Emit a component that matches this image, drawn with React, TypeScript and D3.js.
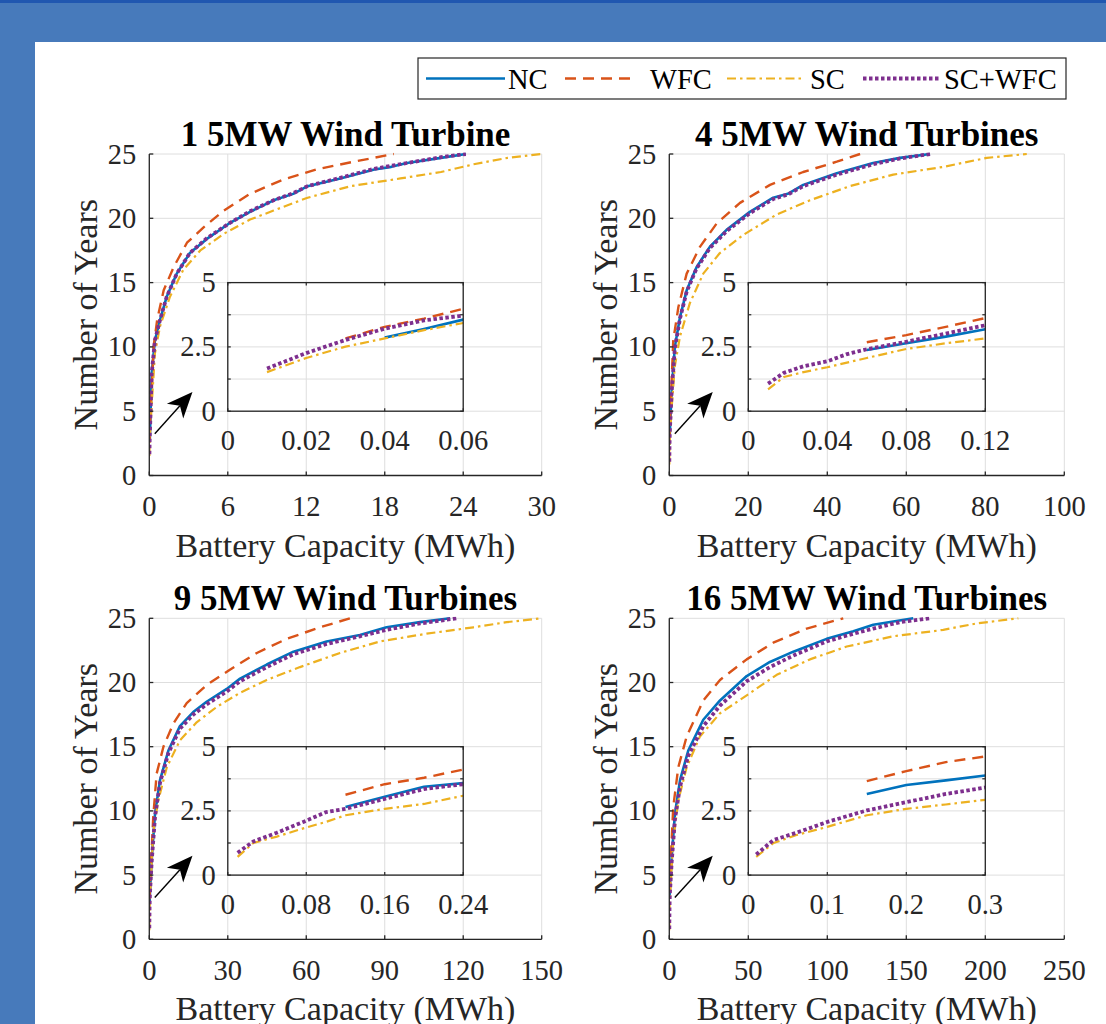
import React from "react";
import * as d3 from "d3";

// ---------- data ----------
const SERIES_NAMES = ["NC", "WFC", "SC", "SC+WFC"];
const COLORS = ["#0072BD", "#D95319", "#EDB120", "#7E2F8E"];

const TITLES = ["1 5MW Wind Turbine", "4 5MW Wind Turbines", "9 5MW Wind Turbines", "16 5MW Wind Turbines"];
const X_MAX = [30, 100, 150, 250];
const X_TICKS = [
  [0, 6, 12, 18, 24, 30],
  [0, 20, 40, 60, 80, 100],
  [0, 30, 60, 90, 120, 150],
  [0, 50, 100, 150, 200, 250],
];
const Y_TICKS = [0, 5, 10, 15, 20, 25];
const INSET_X_MAX = [0.06, 0.12, 0.24, 0.3];
const INSET_X_TICKS = [
  [0, 0.02, 0.04, 0.06],
  [0, 0.04, 0.08, 0.12],
  [0, 0.08, 0.16, 0.24],
  [0, 0.1, 0.2, 0.3],
];
const INSET_Y_TICKS = [0, 1.25, 2.5, 3.75, 5];
const INSET_Y_LABELS = [0, 2.5, 5];
const INSET_SPAN_X = [[6, 24], [20, 80], [30, 120], [50, 200]];
const INSET_SPAN_Y = [5, 15];

// panel 1: 1 turbine
const NC_1 = [[0.04,2.86],[0.05,3.2],[0.06,3.56],[0.18,7.9],[0.43,10.5],[0.82,12.1],[1.33,13.9],[2.1,15.7],[3.1,17.3],[4.4,18.4],[6.1,19.6],[7.7,20.5],[9.5,21.4],[11,21.9],[12.1,22.5],[14.6,23.1],[17.2,23.8],[18.5,24.0],[19.7,24.3],[22.3,24.7],[24.2,25]];
const WFC_1 = [[0.03,2.83],[0.04,3.28],[0.05,3.6],[0.06,3.98],[0.33,10],[0.6,12.1],[1.1,14.4],[1.86,16.2],[2.88,18.1],[4.15,19.3],[5.7,20.6],[7.7,21.9],[10.2,23],[12.8,23.8],[15.6,24.4],[18.7,25]];
const SC_1 = [[0.01,1.52],[0.02,2.07],[0.03,2.51],[0.04,2.83],[0.05,3.15],[0.06,3.43],[0.43,9.5],[0.82,11.6],[1.58,13.9],[2.6,16],[3.9,17.5],[5.7,18.8],[7.7,19.9],[9.5,20.6],[12.1,21.6],[15.4,22.5],[19.2,23.1],[22.3,23.6],[24.8,24.2],[27.4,24.7],[30,25]];
const SCW_1 = [[0.01,1.66],[0.02,2.26],[0.03,2.77],[0.04,3.21],[0.05,3.53],[0.06,3.72],[0.18,7.9],[0.43,10.5],[0.82,12.1],[1.33,13.9],[2.1,15.7],[3.1,17.3],[4.4,18.45],[6.1,19.6],[7.7,20.55],[9.5,21.4],[11,21.95],[12.1,22.5],[14.6,23.15],[17.2,23.85],[19.7,24.3],[22.3,24.75],[24.2,25]];

// panel 2: 4 turbines
const NC_2 = [[0.06,2.38],[0.08,2.64],[0.1,2.9],[0.12,3.19],[0.6,6.6],[1.4,10],[2.7,12.3],[4.4,14.4],[6.9,16.2],[10.3,17.8],[14.5,19.1],[20.4,20.5],[26.3,21.6],[30,21.9],[33.9,22.6],[42.4,23.5],[51.6,24.3],[58.4,24.7],[66,25]];
const WFC_2 = [[0.06,2.68],[0.08,2.96],[0.1,3.28],[0.12,3.62],[1.0,10.5],[2.3,13.1],[4.4,15.7],[7.8,17.8],[12,19.6],[17.9,21.2],[25.5,22.6],[33.9,23.6],[42.4,24.4],[48.3,25]];
const SC_2 = [[0.01,0.85],[0.018,1.33],[0.028,1.52],[0.04,1.71],[0.06,2.07],[0.08,2.42],[0.1,2.64],[0.12,2.83],[0.6,5.3],[1.4,8.5],[2.7,10.8],[5.2,13.4],[8.6,15.7],[12.8,17.3],[18.7,18.7],[27.2,20.3],[35.6,21.4],[45.7,22.5],[56.7,23.4],[69.4,24],[80.4,24.7],[90.5,25]];
const SCW_2 = [[0.01,1.07],[0.018,1.49],[0.028,1.75],[0.04,1.94],[0.05,2.22],[0.06,2.41],[0.08,2.7],[0.1,3.02],[0.12,3.34],[0.6,6.5],[1.4,9.9],[2.7,12.2],[4.4,14.3],[6.9,16.1],[10.3,17.7],[14.5,19.0],[20.4,20.4],[26.3,21.5],[30,21.85],[33.9,22.5],[42.4,23.4],[51.6,24.2],[58.4,24.65],[66,25]];

// panel 3: 9 turbines
const NC_3 = [[0.12,2.65],[0.16,3.05],[0.2,3.44],[0.24,3.58],[0.9,6.2],[2.2,9.8],[4.1,12.4],[7.3,14.7],[11.7,16.6],[16.8,17.7],[21.9,18.5],[29.6,19.5],[34.7,20.3],[44.9,21.4],[55.1,22.4],[67.8,23.2],[80.5,23.7],[90.7,24.3],[103.5,24.7],[115,25]];
const WFC_3 = [[0.12,3.13],[0.16,3.54],[0.2,3.79],[0.24,4.11],[1.5,9.5],[2.8,12.9],[5.4,15],[9.2,16.8],[14.3,18.4],[21.9,19.8],[30.8,21],[41.1,22.3],[52.5,23.4],[65.3,24.3],[76.7,25]];
const SC_3 = [[0.01,0.71],[0.026,1.25],[0.05,1.5],[0.077,1.82],[0.1,2.07],[0.12,2.33],[0.16,2.58],[0.2,2.77],[0.24,3.09],[1.5,8.3],[3.4,10.8],[6.7,13.4],[11.7,15.5],[18.1,16.9],[25.8,18.1],[34.7,19.2],[44.9,20.2],[57.6,21.2],[72.9,22.3],[88.2,23.2],[106,23.8],[123.9,24.3],[136.6,24.7],[150,25]];
const SCW_3 = [[0.01,0.87],[0.026,1.31],[0.05,1.65],[0.077,2.07],[0.1,2.45],[0.12,2.58],[0.16,2.97],[0.2,3.35],[0.24,3.54],[0.9,6.0],[2.2,9.6],[4.1,12.2],[7.3,14.5],[11.7,16.4],[16.8,17.5],[21.9,18.3],[29.6,19.3],[34.7,20.1],[44.9,21.2],[55.1,22.2],[67.8,23.0],[80.5,23.6],[90.7,24.1],[103.5,24.6],[117.5,25]];

// panel 4: 16 turbines
const NC_4 = [[0.15,3.16],[0.2,3.51],[0.25,3.69],[0.3,3.88],[1.5,6.4],[3.6,9.8],[6.8,12.4],[12,14.7],[21.5,17.1],[32.1,18.6],[49,20.5],[63.7,21.6],[78.5,22.4],[99.6,23.4],[116.5,24],[129.1,24.5],[154.4,25]];
const WFC_4 = [[0.15,3.66],[0.2,4.05],[0.25,4.4],[0.3,4.62],[2.5,10.3],[5.7,13.4],[11,15.8],[21.5,18.6],[32.1,20.2],[49,21.8],[65.8,23.1],[87,24.2],[110.1,25]];
const SC_4 = [[0.01,0.71],[0.032,1.25],[0.061,1.56],[0.1,1.88],[0.15,2.33],[0.2,2.58],[0.25,2.75],[0.3,2.93],[2.5,7.7],[5.7,10.8],[11,13.4],[19.4,15.8],[32.1,17.6],[49,19],[68,20.6],[89,21.8],[112.3,22.8],[141.8,23.6],[173.4,24.1],[194.5,24.6],[220.9,25]];
const SCW_4 = [[0.01,0.8],[0.032,1.37],[0.061,1.65],[0.1,2.07],[0.15,2.52],[0.2,2.84],[0.25,3.16],[0.3,3.41],[1.5,6.0],[3.6,9.4],[6.8,11.9],[12,14.3],[21.5,16.6],[32.1,18.2],[49,20.1],[63.7,21.2],[78.5,22.1],[99.6,23.2],[116.5,23.8],[129.1,24.2],[146,24.7],[165,25]];

const PANEL_SERIES = [
  [NC_1, WFC_1, SC_1, SCW_1],
  [NC_2, WFC_2, SC_2, SCW_2],
  [NC_3, WFC_3, SC_3, SCW_3],
  [NC_4, WFC_4, SC_4, SCW_4],
];

// ---------- layout / style ----------
const W = 1106, H = 1024;
const BOXES = [
  { l: 149.3, t: 154, r: 541.7, b: 475.5 },
  { l: 669.3, t: 154, r: 1064.3, b: 475.5 },
  { l: 149.3, t: 618.3, r: 541.7, b: 939.3 },
  { l: 669.3, t: 618.3, r: 1064.3, b: 939.3 },
];
const FONT = "Liberation Serif, Times New Roman, Times, serif";
const AX = "#262626";
const GRID = "#dedede";
const STYLES = [
  { w: 2.6, dash: undefined },
  { w: 2.4, dash: "11 7" },
  { w: 2.2, dash: "9 4 2.5 4" },
  { w: 3.8, dash: "3.5 2.5" },
];
const ARROW_FRAC = { tail: [0.014, 0.13], tip: [0.11, 0.26] };

function fmt(v: number) {
  return String(+v.toFixed(4));
}

function Arrow({ x1, y1, x2, y2 }) {
  const dx = x2 - x1, dy = y2 - y1;
  const len = Math.hypot(dx, dy);
  const ux = dx / len, uy = dy / len;
  const nx = -uy, ny = ux;
  const L = 26, Wd = 11;
  const bx = x2 - L * ux, by = y2 - L * uy;
  const ix = x2 - 0.72 * L * ux, iy = y2 - 0.72 * L * uy;
  const pts = [
    [x2, y2], [bx + Wd * nx, by + Wd * ny], [ix, iy], [bx - Wd * nx, by - Wd * ny],
  ].map((p) => p.join(",")).join(" ");
  return (
    <g>
      <line x1={x1} y1={y1} x2={ix} y2={iy} stroke="#000" strokeWidth={1.4} />
      <polygon points={pts} fill="#000" />
    </g>
  );
}

function Panel({ idx }) {
  const box = BOXES[idx];
  const x = d3.scaleLinear().domain([0, X_MAX[idx]]).range([box.l, box.r]);
  const y = d3.scaleLinear().domain([0, 25]).range([box.b, box.t]);
  const series = PANEL_SERIES[idx];
  const line = d3.line<number[]>().x((d) => x(d[0])).y((d) => y(d[1]));
  const clipId = `clip-main-${idx}`;

  const ix0 = x(INSET_SPAN_X[idx][0]), ix1 = x(INSET_SPAN_X[idx][1]);
  const iy0 = y(INSET_SPAN_Y[0]), iy1 = y(INSET_SPAN_Y[1]);
  const xi = d3.scaleLinear().domain([0, INSET_X_MAX[idx]]).range([ix0, ix1]);
  const yi = d3.scaleLinear().domain([0, 5]).range([iy0, iy1]);
  const lineI = d3.line<number[]>().x((d) => xi(d[0])).y((d) => yi(d[1]));
  const clipI = `clip-inset-${idx}`;

  const cx = (box.l + box.r) / 2;
  const cy = (box.t + box.b) / 2;
  const bw = box.r - box.l, bh = box.b - box.t;

  return (
    <g>
      <defs>
        <clipPath id={clipId}>
          <rect x={box.l} y={box.t - 1.5} width={bw + 1.5} height={bh + 1.5} />
        </clipPath>
        <clipPath id={clipI}>
          <rect x={ix0} y={iy1} width={ix1 - ix0} height={iy0 - iy1} />
        </clipPath>
      </defs>
      {X_TICKS[idx].map((t) => (
        <line key={"gx" + t} x1={x(t)} x2={x(t)} y1={box.t} y2={box.b} stroke={GRID} strokeWidth={1} />
      ))}
      {Y_TICKS.map((t) => (
        <line key={"gy" + t} x1={box.l} x2={box.r} y1={y(t)} y2={y(t)} stroke={GRID} strokeWidth={1} />
      ))}
      <g clipPath={`url(#${clipId})`}>
        {series.map((s, i) => (
          <path key={i} d={line(s) || ""} fill="none" stroke={COLORS[i]} strokeWidth={STYLES[i].w}
            strokeDasharray={STYLES[i].dash} strokeLinejoin="round" />
        ))}
      </g>
      <line x1={box.l} x2={box.l} y1={box.t} y2={box.b} stroke={AX} strokeWidth={1.3} />
      <line x1={box.l} x2={box.r} y1={box.b} y2={box.b} stroke={AX} strokeWidth={1.3} />
      {X_TICKS[idx].map((t) => (
        <g key={"tx" + t}>
          <line x1={x(t)} x2={x(t)} y1={box.b} y2={box.b - 4} stroke={AX} strokeWidth={1.3} />
          <text x={x(t)} y={box.b + 40.5} textAnchor="middle" fontFamily={FONT} fontSize={28.5} fill={AX}>{fmt(t)}</text>
        </g>
      ))}
      {Y_TICKS.map((t) => (
        <g key={"ty" + t}>
          <line x1={box.l} x2={box.l + 4} y1={y(t)} y2={y(t)} stroke={AX} strokeWidth={1.3} />
          <text x={box.l - 13} y={y(t) + 9.5} textAnchor="end" fontFamily={FONT} fontSize={28.5} fill={AX}>{fmt(t)}</text>
        </g>
      ))}
      <text x={cx} y={box.b + 81} textAnchor="middle" fontFamily={FONT} fontSize={34} fill={AX}>Battery Capacity (MWh)</text>
      <text transform={`translate(${box.l - 52},${cy}) rotate(-90)`} textAnchor="middle" fontFamily={FONT} fontSize={34} fill={AX}>Number of Years</text>
      <text x={cx} y={box.t - 8} textAnchor="middle" fontFamily={FONT} fontSize={35} fontWeight="bold" fill="#000">{TITLES[idx]}</text>

      <rect x={ix0} y={iy1} width={ix1 - ix0} height={iy0 - iy1} fill="#fff" />
      {INSET_X_TICKS[idx].map((t) => (
        <line key={"igx" + t} x1={xi(t)} x2={xi(t)} y1={iy1} y2={iy0} stroke={GRID} strokeWidth={1} />
      ))}
      {INSET_Y_TICKS.map((t) => (
        <line key={"igy" + t} x1={ix0} x2={ix1} y1={yi(t)} y2={yi(t)} stroke={GRID} strokeWidth={1} />
      ))}
      <g clipPath={`url(#${clipI})`}>
        {series.map((s, i) => (
          <path key={i} d={lineI(s) || ""} fill="none" stroke={COLORS[i]} strokeWidth={STYLES[i].w}
            strokeDasharray={STYLES[i].dash} strokeLinejoin="round" />
        ))}
      </g>
      <rect x={ix0} y={iy1} width={ix1 - ix0} height={iy0 - iy1} fill="none" stroke={AX} strokeWidth={1.3} />
      {INSET_X_TICKS[idx].map((t) => (
        <g key={"itx" + t}>
          <line x1={xi(t)} x2={xi(t)} y1={iy0} y2={iy0 - 3} stroke={AX} strokeWidth={1.2} />
          <line x1={xi(t)} x2={xi(t)} y1={iy1} y2={iy1 + 3} stroke={AX} strokeWidth={1.2} />
          <text x={xi(t)} y={iy0 + 39} textAnchor="middle" fontFamily={FONT} fontSize={28.5} fill={AX}>{fmt(t)}</text>
        </g>
      ))}
      {INSET_Y_TICKS.map((t) => (
        <g key={"ity" + t}>
          <line x1={ix0} x2={ix0 + 3} y1={yi(t)} y2={yi(t)} stroke={AX} strokeWidth={1.2} />
          <line x1={ix1} x2={ix1 - 3} y1={yi(t)} y2={yi(t)} stroke={AX} strokeWidth={1.2} />
        </g>
      ))}
      {INSET_Y_LABELS.map((t) => (
        <text key={"ily" + t} x={ix0 - 12} y={yi(t) + 9.5} textAnchor="end" fontFamily={FONT} fontSize={28.5} fill={AX}>{fmt(t)}</text>
      ))}
      <Arrow
        x1={box.l + ARROW_FRAC.tail[0] * bw} y1={box.b - ARROW_FRAC.tail[1] * bh}
        x2={box.l + ARROW_FRAC.tip[0] * bw} y2={box.b - ARROW_FRAC.tip[1] * bh}
      />
    </g>
  );
}

const LEGEND_BOX = { x: 418, y: 58, w: 648, h: 41 };
const LEGEND_ITEMS = [
  { x1: 426, x2: 505, tx: 508 },
  { x1: 565, x2: 637, tx: 650 },
  { x1: 727, x2: 805, tx: 810 },
  { x1: 863, x2: 941, tx: 944 },
];

function Legend() {
  const cy = LEGEND_BOX.y + LEGEND_BOX.h / 2;
  return (
    <g>
      <rect x={LEGEND_BOX.x} y={LEGEND_BOX.y} width={LEGEND_BOX.w} height={LEGEND_BOX.h} fill="#fff" stroke={AX} strokeWidth={1.2} />
      {SERIES_NAMES.map((n, i) => (
        <g key={n}>
          <line x1={LEGEND_ITEMS[i].x1} x2={LEGEND_ITEMS[i].x2} y1={cy} y2={cy} stroke={COLORS[i]}
            strokeWidth={STYLES[i].w} strokeDasharray={STYLES[i].dash} />
          <text x={LEGEND_ITEMS[i].tx} y={cy + 10} fontFamily={FONT} fontSize={28.5} fill="#000">{n}</text>
        </g>
      ))}
    </g>
  );
}

export default function App() {
  return (
    <svg width={W} height={H} style={{ position: "absolute", left: 0, top: 0, display: "block" }}>
      <rect x={0} y={0} width={W} height={H} fill="#477abb" />
      <rect x={0} y={0} width={W} height={3} fill="#2057b0" />
      <rect x={35} y={42} width={W - 35} height={H - 42} fill="#fff" />
      <Legend />
      {[0, 1, 2, 3].map((i) => <Panel key={i} idx={i} />)}
    </svg>
  );
}
